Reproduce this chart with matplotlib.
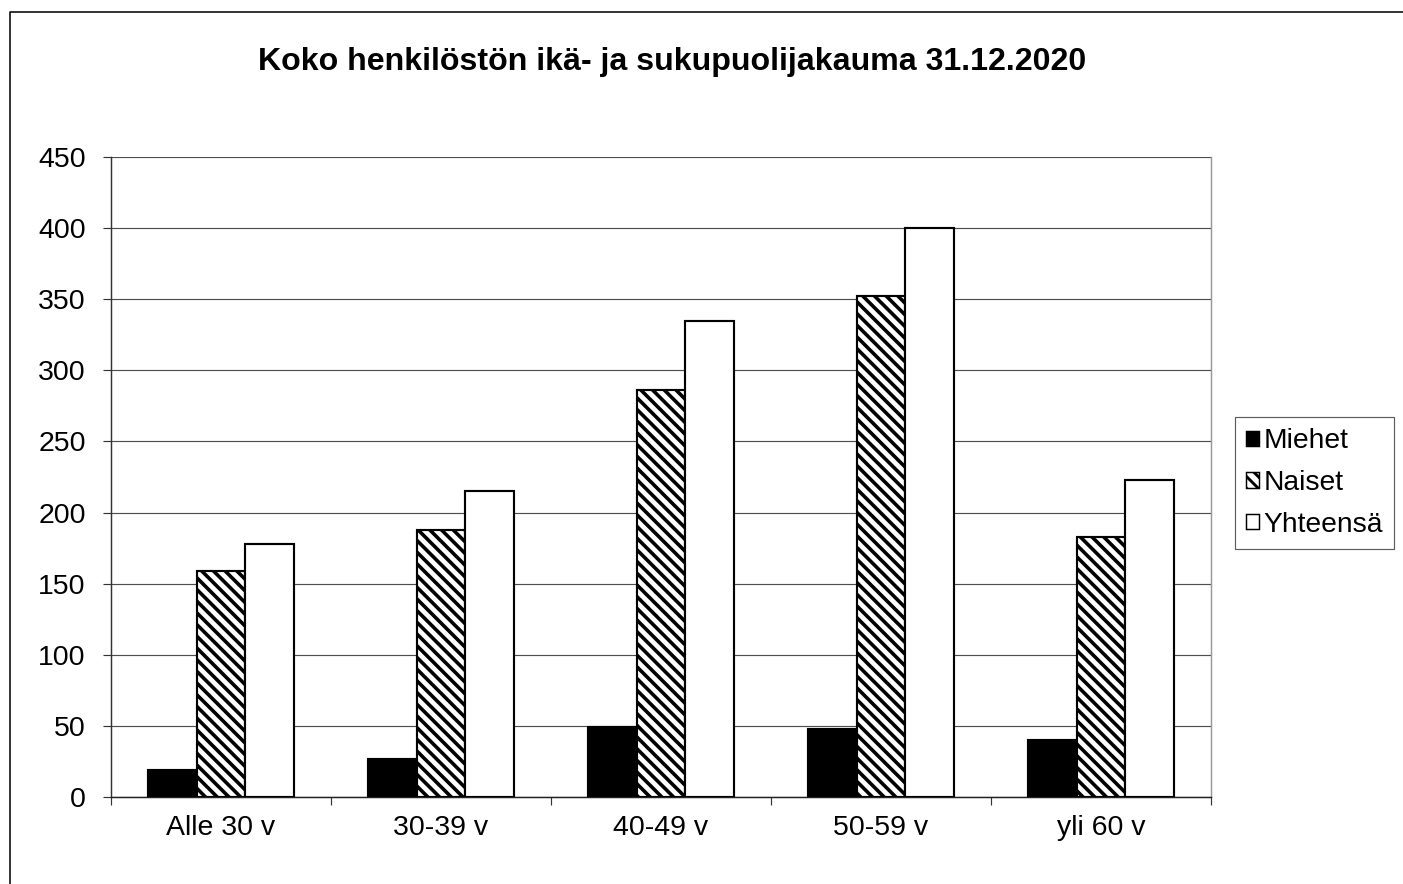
import numpy as np
import matplotlib
matplotlib.use("Agg")
import matplotlib.pyplot as plt
from matplotlib.lines import Line2D
from matplotlib.patches import Patch
from matplotlib.collections import LineCollection
from matplotlib.transforms import IdentityTransform

# data
categories = ['Alle 30 v', '30-39 v', '40-49 v', '50-59 v', 'yli 60 v']
miehet = [19, 27, 49, 48, 40]
naiset = [159, 188, 286, 352, 183]
yhteensa = [178, 215, 335, 400, 223]
series_names = ['Miehet', 'Naiset', 'Yhteensä']
y_ticks = list(range(0, 451, 50))

plt.rcParams['font.family'] = ['Liberation Sans', 'DejaVu Sans']
plt.rcParams['hatch.linewidth'] = 3.0

DPI = 70
W, H = 1403, 884
fig = plt.figure(figsize=(W / DPI, H / DPI), dpi=DPI)
fig.patch.set_facecolor('white')

# outer chart frame (only top and left edges visible)
x0, y0 = 9.5 / W, 1 - 11.5 / H
fig.add_artist(Line2D([x0, x0, 1.01], [-0.01, y0, y0], transform=fig.transFigure,
                      color='black', lw=1.6))

left, right, top, bottom = 111 / W, 1211 / W, 1 - 157 / H, 1 - 797 / H
ax = fig.add_axes([left, bottom, right - left, top - bottom])

x = np.arange(len(categories))
w = 1 / 4.5
faces = ['black', 'white', 'white']
containers = []
for k, vals in enumerate([miehet, naiset, yhteensa]):
    bars = ax.bar(x + (k - 1) * w, vals, width=w, facecolor=faces[k],
                  edgecolor='black', linewidth=2.2, zorder=3)
    containers.append(bars)

ax.set_xlim(-0.5, len(categories) - 0.5)
ax.set_ylim(0, 450)

# dense diagonal hatching for "Naiset", drawn in pixel space and clipped to each bar
period = 11.7
for bar in containers[1]:
    bb = bar.get_window_extent()
    lo = np.floor((bb.x0 + bb.y0) / period) * period
    cs = np.arange(lo, bb.x1 + bb.y1 + period, period)
    segs = [[(c - bb.y1 - 3, bb.y1 + 3), (c - bb.y0 + 3, bb.y0 - 3)] for c in cs]
    lc = LineCollection(segs, colors='black', linewidths=3.7,
                        transform=IdentityTransform(), zorder=3.5)
    ax.add_collection(lc, autolim=False)
    lc.set_clip_path(bar.get_path(), bar.get_transform())

ax.set_yticks(y_ticks)
ax.yaxis.grid(True, color='#4d4d4d', lw=1.2, zorder=0)
ax.set_axisbelow(True)

ax.set_xticks(x)
ax.set_xticklabels(categories)
ax.set_xticks(np.arange(-0.5, len(categories)), minor=True)
ax.tick_params(axis='x', which='major', length=0, pad=19, labelsize=29.3)
ax.tick_params(axis='x', which='minor', length=8, width=1.2, color='#333333', direction='out')
ax.tick_params(axis='y', length=8, width=1.2, color='#333333', pad=18, labelsize=29.3)

ax.spines['top'].set_visible(False)
ax.spines['right'].set_color('#999999')
ax.spines['right'].set_linewidth(1.5)
ax.spines['left'].set_color('#333333')
ax.spines['left'].set_linewidth(1.5)
ax.spines['bottom'].set_color('#222222')
ax.spines['bottom'].set_linewidth(1.5)

fig.text(672 / W, 1 - 62 / H, 'Koko henkilöstön ikä- ja sukupuolijakauma 31.12.2020',
         ha='center', va='center', fontsize=33, fontweight='bold')

handles = [Patch(facecolor='black', edgecolor='black', lw=1.5, label=series_names[0]),
           Patch(facecolor='white', edgecolor='black', lw=1.5, hatch='\\\\', label=series_names[1]),
           Patch(facecolor='white', edgecolor='black', lw=1.5, label=series_names[2])]
leg = fig.legend(handles=handles, loc='center left',
                 bbox_to_anchor=(1235 / W, 1 - 483 / H),
                 fontsize=29, handlelength=0.45, handleheight=0.45,
                 handletextpad=0.15, labelspacing=0.55, borderpad=0.4,
                 fancybox=False, frameon=True, borderaxespad=0)
leg.get_frame().set_edgecolor('#333333')
leg.get_frame().set_linewidth(1.2)

fig.savefig('out.png', dpi=DPI)
